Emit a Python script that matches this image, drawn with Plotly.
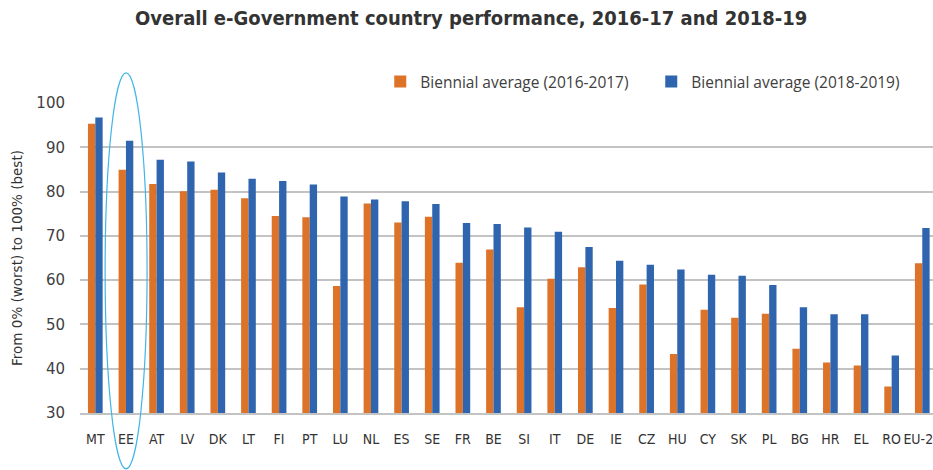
import plotly.graph_objects as go

countries = ["MT", "EE", "AT", "LV", "DK", "LT", "FI", "PT", "LU", "NL", "ES", "SE", "FR", "BE",
             "SI", "IT", "DE", "IE", "CZ", "HU", "CY", "SK", "PL", "BG", "HR", "EL", "RO", "EU-28"]
avg_2016_2017 = [95.3, 84.9, 81.7, 80.1, 80.4, 78.5, 74.5, 74.2, 58.7, 77.3, 73.0, 74.3, 63.9, 66.9,
                 53.9, 60.3, 62.9, 53.7, 59.0, 43.3, 53.3, 51.5, 52.4, 44.5, 41.4, 40.7, 36.0, 63.8]
avg_2018_2019 = [96.7, 91.5, 87.2, 86.8, 84.3, 82.9, 82.4, 81.6, 78.9, 78.2, 77.8, 77.2, 72.9, 72.7,
                 71.9, 70.9, 67.5, 64.4, 63.5, 62.4, 61.2, 61.0, 58.9, 53.9, 52.3, 52.3, 43.0, 71.8]
series_names = ["Biennial average (2016-2017)", "Biennial average (2018-2019)"]
y_ticks = [30, 40, 50, 60, 70, 80, 90, 100]

ORANGE = "#DD7229"
BLUE = "#2E65AE"
GRID = "#C3C3C3"

fig = go.Figure()
fig.add_trace(go.Bar(x=countries, y=avg_2016_2017, name=series_names[0],
                     marker=dict(color=ORANGE, line=dict(width=0))))
fig.add_trace(go.Bar(x=countries, y=avg_2018_2019, name=series_names[1],
                     marker=dict(color=BLUE, line=dict(width=0))))

fig.update_layout(
    width=933, height=470,
    margin=dict(l=80, r=0, t=103, b=57, autoexpand=False),
    paper_bgcolor="white", plot_bgcolor="white",
    barmode="group", bargap=0.52, bargroupgap=0,
    title=dict(text="<b>Overall e-Government country performance, 2016-17 and 2018-19</b>",
               x=0.505, xanchor="center", y=0.962, yanchor="middle",
               font=dict(family="DejaVu Sans Condensed", size=20, color="#333333")),
    legend=dict(orientation="h", x=0.352, xanchor="left", y=1.068, yanchor="middle",
                font=dict(family="Open Sans", size=15.5, color="#404040"),
                itemwidth=30, entrywidth=226, entrywidthmode="pixels",
                bgcolor="rgba(0,0,0,0)", traceorder="normal", itemclick=False),
    xaxis=dict(type="category", range=[-0.5, 27.35], showgrid=False,
               showline=True, linecolor=GRID, linewidth=2, ticks="",
               tickfont=dict(family="DejaVu Sans Condensed", size=14, color="#333333"),
               ticklabelstandoff=12, fixedrange=True),
    yaxis=dict(range=[30, 100], tickvals=y_ticks, showgrid=True, gridcolor=GRID, gridwidth=1.5,
               zeroline=False, showline=False, ticks="",
               tickfont=dict(family="DejaVu Sans", size=15, color="#404040"),
               ticklabelstandoff=14, fixedrange=True,
               title=dict(text="From 0% (worst) to 100% (best)", standoff=10,
                          font=dict(family="DejaVu Sans", size=13.5, color="#333333"))),
    shapes=[dict(type="circle", xref="x", yref="paper", x0=0.32, x1=1.69, y0=-0.18, y1=1.097,
                 line=dict(color="#41B6E6", width=1.2), fillcolor="rgba(0,0,0,0)", layer="above")],
)

fig.write_html("out.html", config={"displayModeBar": False},
               post_script="document.body.style.margin='0';document.body.style.overflow='hidden';")
